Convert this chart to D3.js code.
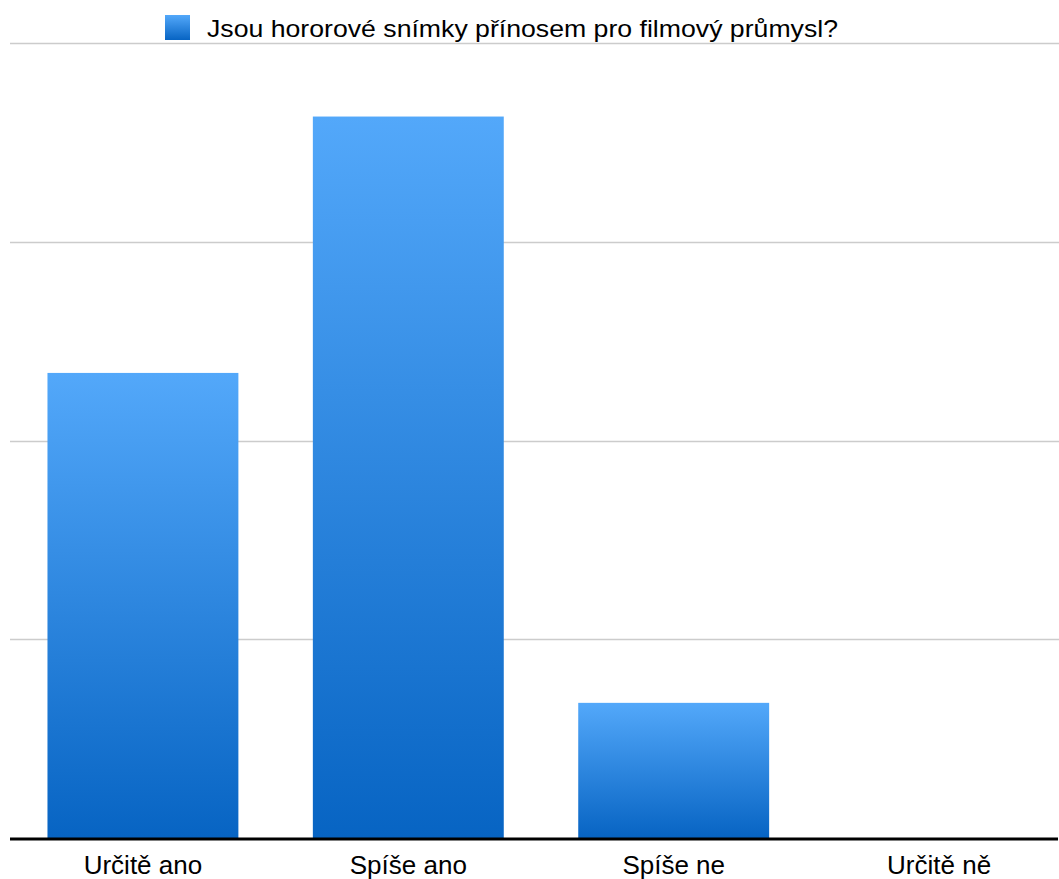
<!DOCTYPE html>
<html>
<head>
<meta charset="utf-8">
<script src="https://cdn.jsdelivr.net/npm/d3@7"></script>
<style>
  html, body { margin: 0; padding: 0; background: #fff; }
  svg { display: block; }
  text { font-family: "Liberation Sans", Arial, Helvetica, sans-serif; fill: #000; }
</style>
</head>
<body>
<svg id="chart" width="1059" height="879"></svg>
<script>
const categories = ["Určitě ano", "Spíše ano", "Spíše ne", "Určitě ně"];
const values = [2.34, 3.63, 0.68, 0];
const gridTicks = [1, 2, 3, 4];
const seriesName = "Jsou hororové snímky přínosem pro filmový průmysl?";

const svg = d3.select("#chart");
const W = 1059, H = 879;

const x = d3.scaleBand().domain(categories).range([10, 1072])
  .paddingInner(0.2806).paddingOuter(0.1412);
const y = d3.scaleLinear().domain([0, 4]).range([838, 43]);

const defs = svg.append("defs");
const grad = defs.append("linearGradient").attr("id", "barGrad")
  .attr("x1", 0).attr("y1", 0).attr("x2", 0).attr("y2", 1);
grad.append("stop").attr("offset", "0%").attr("stop-color", "#53a8fa");
grad.append("stop").attr("offset", "100%").attr("stop-color", "#0764c3");

// gridlines
svg.append("g").selectAll("line").data(gridTicks).join("line")
  .attr("x1", 10).attr("x2", W)
  .attr("y1", d => Math.round(y(d)) + 0.5).attr("y2", d => Math.round(y(d)) + 0.5)
  .attr("stroke", "#cccccc").attr("stroke-width", 1.5);

// bars
svg.append("g").selectAll("rect").data(values.map((v, i) => ({ c: categories[i], v })).filter(d => d.v > 0))
  .join("rect")
  .attr("x", d => x(d.c))
  .attr("width", x.bandwidth())
  .attr("y", d => y(d.v))
  .attr("height", d => y(0) - y(d.v))
  .attr("fill", "url(#barGrad)");

// baseline
svg.append("line").attr("x1", 10).attr("x2", W - 1)
  .attr("y1", 839).attr("y2", 839)
  .attr("stroke", "#000").attr("stroke-width", 3);

// x axis labels
const xAxis = d3.axisBottom(x).tickSize(0).tickPadding(0);
const gx = svg.append("g").attr("transform", "translate(0,874)").call(xAxis);
gx.select(".domain").remove();
gx.selectAll("text").attr("font-size", 26).attr("dy", 0)
  .style("font-family", "'Liberation Sans', Arial, sans-serif").attr("fill", "#000");

// legend
svg.append("rect").attr("x", 165).attr("y", 15).attr("width", 25).attr("height", 25)
  .attr("fill", "url(#barGrad)");
svg.append("text").attr("x", 207).attr("y", 37).attr("font-size", 24)
  .attr("textLength", 631).attr("lengthAdjust", "spacingAndGlyphs")
  .text(seriesName);
</script>
</body>
</html>
